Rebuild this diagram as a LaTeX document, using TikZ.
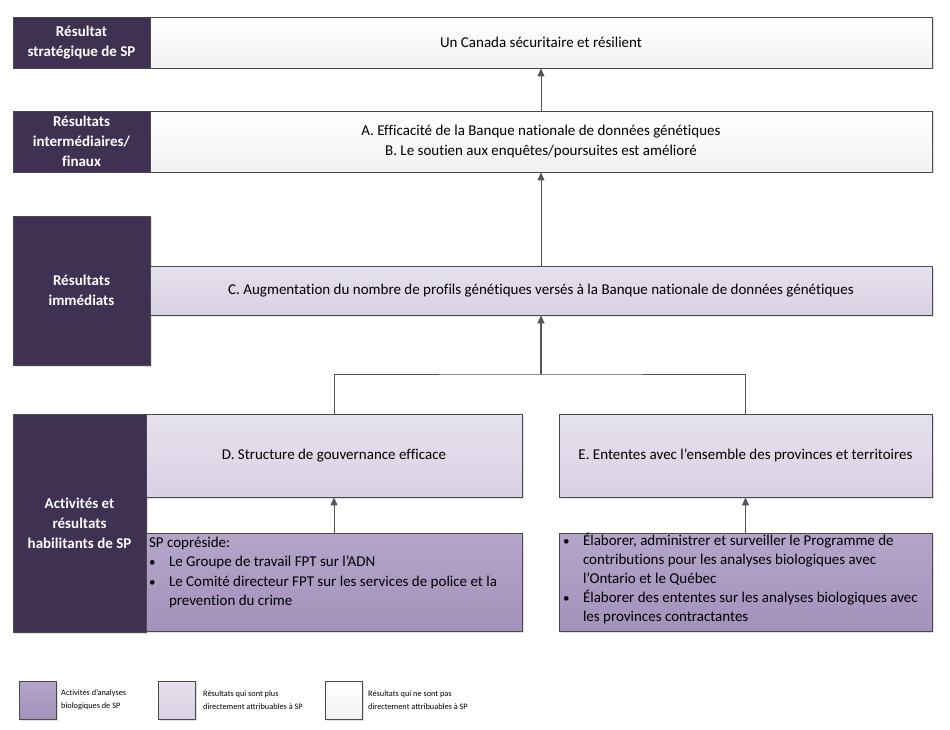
\documentclass[tikz,border=0pt]{standalone}
\usepackage{fontspec}
\setmainfont{Carlito}[Ligatures=NoCommon]
\usepackage{xcolor}
\usepackage{tikz}
\usetikzlibrary{arrows.meta,shadows}
\definecolor{violetfonce}{HTML}{3F3151}
\definecolor{clairhaut}{HTML}{E6E1EE}
\definecolor{clairbas}{HTML}{D8D1E3}
\definecolor{moyenhaut}{HTML}{B4A5C9}
\definecolor{moyenbas}{HTML}{A392BB}
\definecolor{bordure}{HTML}{4A4A4A}
\definecolor{fleche}{HTML}{555555}
\tikzset{niveau/.style={rectangle,draw=bordure,line width=0.8pt,fill=violetfonce,text=white,font=\bfseries\fontsize{15}{20}\selectfont,align=center,inner sep=2pt,
    drop shadow={shadow xshift=1.5pt,shadow yshift=-1.5pt,opacity=0.25}},
  blanc/.style={rectangle,draw=bordure,line width=0.8pt,top color=white,bottom color=black!5,font=\fontsize{15}{20}\selectfont,align=center,
    drop shadow={shadow xshift=1.5pt,shadow yshift=-1.5pt,opacity=0.25}},
  clair/.style={blanc,top color=clairhaut,bottom color=clairbas},
  moyen/.style={blanc,top color=moyenhaut,bottom color=moyenbas,inner sep=0pt},
  cle/.style={rectangle,draw=bordure!80,line width=0.6pt,minimum width=37pt,minimum height=38pt,
    drop shadow={shadow xshift=1pt,shadow yshift=-1pt,opacity=0.25}},
  txtcle/.style={anchor=west,align=left,font=\fontsize{8.3}{13}\selectfont,inner sep=0pt}}
\newcommand{\puce}{\makebox[20pt][l]{{\fontsize{13}{13}\selectfont\textbullet}}}
\newcommand{\suite}{\hspace*{20pt}}

\begin{document}
\begin{tikzpicture}[x=1pt,y=-1pt,>={Triangle[length=8pt,width=7pt]}]
    \useasboundingbox (0,0) rectangle (950,730);
    % colonne des niveaux
    \node[niveau,minimum width=137pt,minimum height=51pt] (n1) at (81.5,42.5) {R\'esultat\\strat\'egique de SP};
    \node[niveau,minimum width=137pt,minimum height=61pt] (n2) at (81.5,141.5) {R\'esultats\\interm\'ediaires/\\finaux};
    \node[niveau,minimum width=137pt,minimum height=149pt] (n3) at (81.5,290.5) {R\'esultats\\imm\'ediats};
    \node[niveau,minimum width=133pt,minimum height=218pt] (n4) at (79.5,523) {Activit\'es et\\r\'esultats\\habilitants de SP};

    % resultats
    \node[blanc,minimum width=782pt,minimum height=51pt] (strat) at (541,42.5) {Un Canada s\'ecuritaire et r\'esilient};
    \node[blanc,minimum width=782pt,minimum height=61pt] (inter) at (541,141.5) {A. Efficacit\'e de la Banque nationale de donn\'ees g\'en\'etiques\\B. Le soutien aux enqu\^etes/poursuites est am\'elior\'e};
    \node[clair,minimum width=782pt,minimum height=49pt] (immed) at (541,290.5) {C. Augmentation du nombre de profils g\'en\'etiques vers\'es \`a la Banque nationale de donn\'ees g\'en\'etiques};
    \node[clair,minimum width=376pt,minimum height=83pt] (gouv) at (334,455.5) {D. Structure de gouvernance efficace};
    \node[clair,minimum width=373pt,minimum height=83pt] (ent) at (745.5,455.5) {E. Ententes avec l’ensemble des provinces et territoires};

    % activites
    \node[moyen,minimum width=376pt,minimum height=98pt] (actg) at (334,582) {\parbox[c][94pt][t]{370pt}{\fontsize{15}{19.3}\selectfont\vspace{2pt}SP copr\'eside:\\
      \puce Le Groupe de travail FPT sur l’ADN\\
      \puce Le Comit\'e directeur FPT sur les services de police et la\\
      \suite prevention du crime}};
    \node[moyen,minimum width=373pt,minimum height=98pt] (actd) at (745.5,582) {\parbox[c][94pt][t]{365pt}{\fontsize{15}{19}\selectfont\vspace{-2pt}\puce \'Elaborer, administrer et surveiller le Programme de\\
      \suite contributions pour les analyses biologiques avec\\
      \suite l’Ontario et le Qu\'ebec\\
      \puce \'Elaborer des ententes sur les analyses biologiques avec\\
      \suite les provinces contractantes}};

    % liens
    \coordinate (jonc) at (541,374);
    \draw[fleche,line width=1pt,->] (inter.north) -- (strat.south);
    \draw[fleche,line width=1pt,->] (immed.north) -- (inter.south);
    \draw[fleche,line width=1.4pt,->] (jonc) -- (immed.south);
    \draw[fleche,line width=1pt] (gouv.north) |- (jonc) -| (ent.north);
    \draw[fleche,line width=1pt,->] (actg.north) -- (gouv.south);
    \draw[fleche,line width=1pt,->] (actd.north) -- (ent.south);

    % legende
    \node[cle,moyen] (c1) at (37.5,700) {};
    \node[cle,clair] (c2) at (176.5,700) {};
    \node[cle,blanc] (c3) at (343.5,700) {};
    \node[txtcle] (t1) at (61,700) {Activit\'es d’analyses\\biologiques de SP};
    \node[txtcle] (t2) at (203,700) {R\'esultats qui sont plus\\directement attribuables \`a SP};
    \node[txtcle] (t3) at (368,700) {R\'esultats qui ne sont pas\\directement attribuables \`a SP};
\end{tikzpicture}
\end{document}
